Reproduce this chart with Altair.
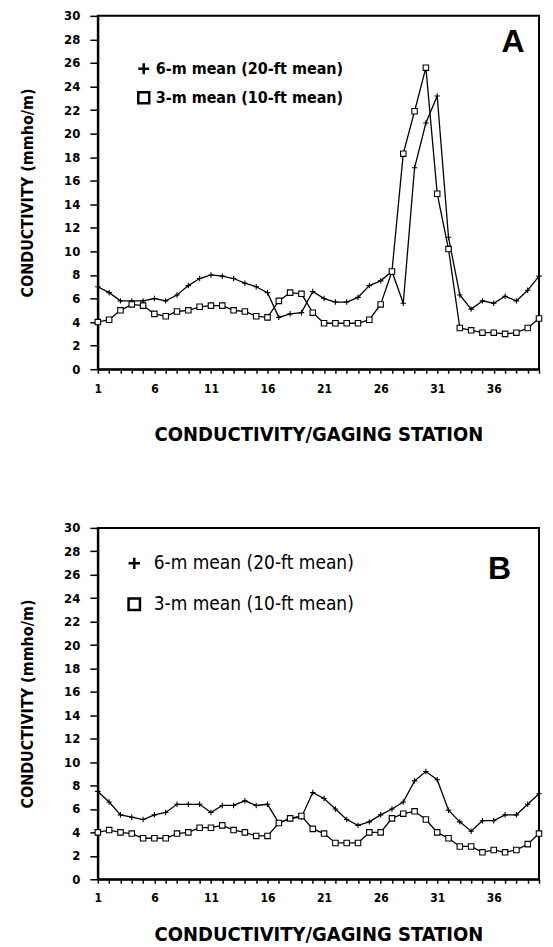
import altair as alt
import pandas as pd

stations = list(range(1, 41))

series_names = ["6-m mean (20-ft mean)", "3-m mean (10-ft mean)"]

a_6m = [7.0, 6.5, 5.8, 5.8, 5.8, 6.0, 5.8, 6.3, 7.1, 7.7,
        8.0, 7.9, 7.7, 7.3, 7.0, 6.5, 4.4, 4.7, 4.8, 6.6,
        6.0, 5.7, 5.7, 6.1, 7.1, 7.5, 8.3, 5.6, 17.1, 20.9,
        23.2, 11.2, 6.3, 5.1, 5.8, 5.6, 6.2, 5.8, 6.7, 7.9]
a_3m = [4.0, 4.2, 5.0, 5.5, 5.4, 4.7, 4.5, 4.9, 5.0, 5.3,
        5.4, 5.4, 5.0, 4.9, 4.5, 4.4, 5.8, 6.5, 6.4, 4.8,
        3.9, 3.9, 3.9, 3.9, 4.2, 5.5, 8.3, 18.3, 21.9, 25.6,
        14.9, 10.2, 3.5, 3.3, 3.1, 3.1, 3.0, 3.1, 3.5, 4.3]

b_6m = [7.5, 6.6, 5.5, 5.3, 5.1, 5.5, 5.7, 6.4, 6.4, 6.4,
        5.7, 6.3, 6.3, 6.7, 6.3, 6.4, 4.8, 5.2, 5.3, 7.4,
        6.9, 6.0, 5.1, 4.6, 4.9, 5.5, 6.0, 6.6, 8.4, 9.2,
        8.5, 5.9, 4.9, 4.1, 5.0, 5.0, 5.5, 5.5, 6.4, 7.3]
b_3m = [4.0, 4.2, 4.0, 3.9, 3.5, 3.5, 3.5, 3.9, 4.0, 4.4,
        4.4, 4.6, 4.2, 4.0, 3.7, 3.7, 4.8, 5.2, 5.4, 4.3,
        3.9, 3.1, 3.1, 3.1, 4.0, 4.0, 5.2, 5.6, 5.8, 5.1,
        4.0, 3.5, 2.8, 2.8, 2.3, 2.5, 2.3, 2.5, 3.0, 3.9]

y_ticks = list(range(0, 31, 2))

panel_letters = ["A", "B"]
letter_station = [37.7, 36.5]
letter_value = [27.8, 26.5]

x_title = "CONDUCTIVITY/GAGING STATION"
y_title = "CONDUCTIVITY (mmho/m)"

COND = "DejaVu Sans Condensed, Liberation Sans Narrow, DejaVu Sans"
PLUS = "M-1,0L1,0M0,-1L0,1"


def panel(v6, v3, idx, height, legend_kw, x_label_pad, x_title_pad):
    df = pd.DataFrame({
        "station": stations + stations,
        "value": v6 + v3,
        "series": [series_names[0]] * len(stations) + [series_names[1]] * len(stations),
    })
    x = alt.X(
        "station:Q",
        scale=alt.Scale(domain=[1, 40], nice=False, zero=False),
        axis=alt.Axis(
            values=stations,
            labelExpr="(datum.value - 1) % 5 == 0 && datum.value < 40 ? datum.label : ''",
            title=x_title,
            titleFont=COND, titleFontSize=20, titleFontWeight="bold",
            titlePadding=x_title_pad,
            labelFont=COND, labelFontSize=12, labelFontWeight="bold",
            labelPadding=x_label_pad, labelFlush=False, labelOverlap=False,
            tickSize=4, grid=False,
        ),
    )
    y = alt.Y(
        "value:Q",
        scale=alt.Scale(domain=[0, 30], nice=False),
        axis=alt.Axis(
            values=y_ticks,
            title=y_title,
            titleFont=COND, titleFontSize=16, titleFontWeight="bold",
            titlePadding=28,
            labelFont=COND, labelFontSize=13, labelFontWeight="bold",
            labelPadding=10, tickSize=8, grid=False, labelOverlap=False,
        ),
    )
    legend = alt.Legend(
        title=None, orient="none", labelLimit=0,
        symbolStrokeColor="black",
        **legend_kw,
    )
    line = alt.Chart(df).mark_line(color="black", strokeWidth=1.3).encode(
        x=x, y=y, detail="series:N"
    )
    pts = alt.Chart(df).mark_point(
        filled=True, strokeWidth=1.1, size=30, opacity=1
    ).encode(
        x=x, y=y,
        shape=alt.Shape("series:N",
                        scale=alt.Scale(domain=series_names, range=[PLUS, "square"]),
                        legend=legend),
        fill=alt.Fill("series:N",
                      scale=alt.Scale(domain=series_names, range=["black", "white"]),
                      legend=legend),
        stroke=alt.Stroke("series:N",
                          scale=alt.Scale(domain=series_names, range=["black", "black"]),
                          legend=legend),
    )
    lab_df = pd.DataFrame({
        "station": [letter_station[idx]],
        "value": [letter_value[idx]],
        "letter": [panel_letters[idx]],
    })
    letter = alt.Chart(lab_df).mark_text(
        font="Liberation Sans, DejaVu Sans", fontSize=32, fontWeight="bold", color="black"
    ).encode(
        x=x, y=y, text="letter:N"
    )
    return alt.layer(line, pts, letter).properties(width=442, height=height)


legend_a = dict(
    legendX=38, legendY=45,
    labelFont=COND, labelFontSize=16, labelFontWeight="bold",
    symbolSize=120, symbolStrokeWidth=2.5, rowPadding=7, labelOffset=4,
)
legend_b = dict(
    legendX=27, legendY=26,
    labelFont=COND, labelFontSize=19, labelFontWeight="normal",
    symbolSize=130, symbolStrokeWidth=2.5, rowPadding=18, labelOffset=10,
)

chart_a = panel(a_6m, a_3m, 0, 354, legend_a, 10, 30)
chart_b = panel(b_6m, b_3m, 1, 352, legend_b, 9, 21)

chart = alt.vconcat(chart_a, chart_b, spacing=76).resolve_scale(
    shape="independent", fill="independent", stroke="independent"
).properties(
    padding={"top": 0, "left": 10, "right": 0, "bottom": 0}
).configure_view(
    stroke="black", strokeWidth=2
).configure_axis(
    domainColor="black", domainWidth=2, tickColor="black", tickWidth=1.5,
    labelColor="black", titleColor="black"
).configure_legend(
    labelColor="black"
)

chart.save("out.html", embed_options={"renderer": "svg", "actions": False})
